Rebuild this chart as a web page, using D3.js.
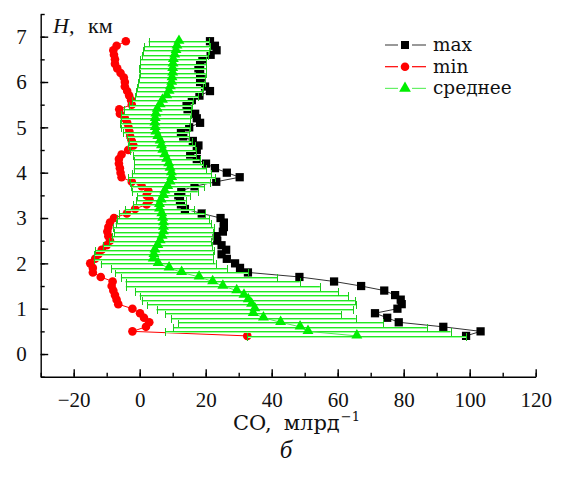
<!DOCTYPE html>
<html>
<head>
<meta charset="utf-8">
<script src="https://cdn.jsdelivr.net/npm/d3@7"></script>
<style>
  body { margin: 0; background: #fff; }
</style>
</head>
<body>
<div id="chart"></div>
<script>
var width = 561, height = 478
var serif = "Liberation Serif, Times New Roman, serif"
var wideSerif = "DejaVu Serif, Liberation Serif, serif"

// heights, km (bottom to top)
var heights = [0.4, 0.5, 0.6, 0.7, 0.8, 0.9, 1.0, 1.1, 1.2, 1.3, 1.4, 1.5, 1.6, 1.7, 1.8, 1.9,
  2.0, 2.1, 2.2, 2.3, 2.4, 2.5, 2.6, 2.7, 2.8, 2.9, 3.0, 3.1, 3.2, 3.3, 3.4, 3.5, 3.6, 3.7, 3.8, 3.9,
  4.0, 4.1, 4.2, 4.3, 4.4, 4.5, 4.6, 4.7, 4.8, 4.9, 5.0, 5.1, 5.2, 5.3, 5.4, 5.5, 5.6, 5.7, 5.8, 5.9,
  6.0, 6.1, 6.2, 6.3, 6.4, 6.5, 6.6, 6.7, 6.8, 6.9]

var maxVals = [98.9, 103.3, 92.0, 78.5, 75.0, 71.3, 78.1, 79.4, 79.1, 77.4, 74.1, 67.1, 58.9, 48.4, 32.8, 30.4,
  28.9, 26.4, 24.8, 26.2, 24.8, 23.5, 23.3, 25.2, 25.5, 25.5, 24.5, 18.8, 13.7, 12.5, 12.2, 11.7, 12.6, 16.6, 23.2, 30.3,
  26.4, 22.8, 20.1, 17.3, 15.3, 17.3, 17.8, 16.1, 13.2, 12.5, 15.0, 18.3, 17.3, 16.8, 14.5, 14.2, 15.8, 18.1, 21.3, 19.8,
  18.3, 18.5, 18.3, 17.8, 18.3, 19.0, 21.5, 23.3, 22.8, 21.3]

var minVals = [32.6, -2.2, 1.9, 2.9, 1.3, 0.1, -2.2, -6.5, -7.0, -7.5, -8.0, -8.5, -8.2, -11.8, -14.2, -14.2,
  -15.0, -13.5, -12.5, -11.5, -10.0, -9.0, -9.5, -9.8, -9.5, -9.0, -7.8, -3.9, -1.4, 2.1, 3.0, 2.1, 2.6, 0.6, -2.4, -5.5,
  -5.8, -6.0, -6.3, -6.3, -5.5, -3.5, -1.9, -2.4, -2.9, -3.1, -3.4, -3.8, -4.5, -6.0, -6.2, -2.4, -2.6, -3.2, -3.8, -4.5,
  -4.5, -4.8, -5.8, -6.8, -7.5, -7.5, -7.8, -8.0, -7.0, -4.2]

var meanVals = [65.8, 51.0, 48.6, 42.7, 37.5, 34.4, 34.9, 33.9, 32.9, 31.6, 29.4, 25.2, 22.1, 18.0, 12.7, 8.9,
  5.6, 4.1, 4.3, 4.6, 5.5, 6.2, 6.8, 7.2, 7.2, 7.2, 7.0, 6.7, 6.0, 6.0, 6.5, 7.2, 7.6, 8.5, 9.2, 9.7,
  9.6, 9.2, 8.8, 8.2, 7.6, 7.0, 6.6, 6.2, 5.5, 4.9, 4.7, 4.6, 4.7, 4.9, 5.3, 6.2, 6.9, 8.2, 8.9, 9.3,
  9.7, 9.8, 10.0, 10.0, 10.1, 10.2, 10.6, 11.0, 11.3, 11.9]

var sdVals = [33.2, 43.2, 38.4, 31.1, 28.0, 26.6, 29.8, 31.6, 32.3, 31.6, 30.8, 29.4, 26.4, 23.7, 20.1, 17.5,
  17.4, 18.0, 18.0, 18.0, 16.5, 15.5, 15.3, 15.0, 15.2, 14.5, 14.0, 13.0, 10.5, 8.0, 7.5, 8.0, 10.0, 11.0, 12.0, 13.2,
  12.0, 11.0, 10.5, 10.0, 9.5, 10.0, 10.2, 9.5, 9.5, 10.0, 10.5, 10.5, 10.5, 10.5, 10.2, 9.5, 9.2, 9.5, 10.0, 10.0,
  10.2, 10.0, 10.0, 10.2, 10.0, 10.0, 10.0, 10.0, 10.0, 9.2]

var xTicks = [-20, 0, 20, 40, 60, 80, 100, 120]
var yTicks = [0, 1, 2, 3, 4, 5, 6, 7]
var seriesNames = ["max", "min", "среднее"]

var rows = heights.map(function(h, i) {
  return { h: h, max: maxVals[i], min: minVals[i], mean: meanVals[i], sd: sdVals[i] }
})

var svg = d3.select("#chart")
  .append("svg")
  .attr("width", width)
  .attr("height", height)

var xScale = d3.scaleLinear()
  .domain([-30, 120])
  .range([40.7, 535.7])

var yScale = d3.scaleLinear()
  .domain([-0.5, 7.5])
  .range([376.7, 14])

// minor ticks
svg.append("g")
  .attr("transform", "translate(0," + yScale(-0.5) + ")")
  .call(d3.axisBottom(xScale).tickValues(d3.range(-30, 121, 10)).tickSize(-4).tickSizeOuter(0).tickFormat(""))
  .call(function(g) { g.select(".domain").remove() })
svg.append("g")
  .attr("transform", "translate(" + xScale(-30) + ",0)")
  .call(d3.axisLeft(yScale).tickValues(d3.range(-0.5, 7.51, 0.5)).tickSize(-4).tickSizeOuter(0).tickFormat(""))
  .call(function(g) { g.select(".domain").remove() })

// X axis
svg.append("g")
  .attr("class", "x-axis")
  .attr("transform", "translate(0," + yScale(-0.5) + ")")
  .call(d3.axisBottom(xScale).tickValues(xTicks).tickSize(-7.5).tickSizeOuter(0).tickPadding(15))
  .attr("font-family", serif)
  .attr("font-size", 21)

// Y axis
svg.append("g")
  .attr("class", "y-axis")
  .attr("transform", "translate(" + xScale(-30) + ",0)")
  .call(d3.axisLeft(yScale).tickValues(yTicks).tickSize(-7.5).tickSizeOuter(0).tickPadding(14))
  .attr("font-family", serif)
  .attr("font-size", 21)

svg.selectAll(".tick line, .domain").attr("stroke", "#000").attr("stroke-width", 1.4)
svg.selectAll(".tick text").attr("fill", "#111")

var lineOf = function(key) {
  return d3.line()
    .x(function(d) { return xScale(d[key]) })
    .y(function(d) { return yScale(d.h) })
}

// max
svg.append("path")
  .datum(rows)
  .attr("d", lineOf("max"))
  .attr("fill", "none")
  .attr("stroke", "#333")
  .attr("stroke-width", 1)
svg.selectAll(".sq")
  .data(rows)
  .enter()
  .append("path")
  .attr("class", "sq")
  .attr("d", d3.symbol(d3.symbolSquare, 68))
  .attr("transform", function(d) { return "translate(" + xScale(d.max) + "," + yScale(d.h) + ")" })
  .attr("fill", "#000")

// min
svg.append("path")
  .datum(rows)
  .attr("d", lineOf("min"))
  .attr("fill", "none")
  .attr("stroke", "#f00")
  .attr("stroke-width", 1)
svg.selectAll(".dot")
  .data(rows)
  .enter()
  .append("circle")
  .attr("class", "dot")
  .attr("cx", function(d) { return xScale(d.min) })
  .attr("cy", function(d) { return yScale(d.h) })
  .attr("r", 4.3)
  .attr("fill", "#f00")

// error bars of the mean
var bars = svg.append("g").attr("class", "err")
rows.forEach(function(d) {
  var y0 = Math.round(yScale(d.h))
  var x0 = xScale(d.mean - d.sd), x1 = xScale(d.mean + d.sd)
  bars.append("line").attr("x1", x0).attr("x2", x1).attr("y1", y0 + 0.5).attr("y2", y0 + 0.5)
    .attr("stroke", "#22e622").attr("stroke-width", 1)
  bars.append("line").attr("x1", x0).attr("x2", x1).attr("y1", y0 + 1.5).attr("y2", y0 + 1.5)
    .attr("stroke", "#9cff9c").attr("stroke-width", 1)
  ;[x0, x1].forEach(function(xc) {
    bars.append("line").attr("x1", Math.round(xc) + 0.5).attr("x2", Math.round(xc) + 0.5)
      .attr("y1", y0 - 3).attr("y2", y0 + 5)
      .attr("stroke", "#1ec81e").attr("stroke-width", 1)
  })
})

// mean
svg.append("path")
  .datum(rows)
  .attr("d", lineOf("mean"))
  .attr("fill", "none")
  .attr("stroke", "#4ee84e")
  .attr("stroke-width", 1)
svg.selectAll(".tri")
  .data(rows)
  .enter()
  .append("path")
  .attr("class", "tri")
  .attr("d", d3.symbol(d3.symbolTriangle, 52))
  .attr("transform", function(d) { return "translate(" + xScale(d.mean) + "," + (yScale(d.h) - 0.5) + ")" })
  .attr("fill", "#00ee00")

// legend
var legendStyles = [
  { line: "#555", fill: "#000", sym: d3.symbolSquare, size: 64 },
  { line: "#f00", fill: "#f00", sym: d3.symbolCircle, size: 58 },
  { line: "#66f066", fill: "#00ee00", sym: d3.symbolTriangle, size: 60 }
]
var legend = svg.append("g").attr("class", "legend")
seriesNames.forEach(function(name, i) {
  var ly = 45 + i * 21.7
  var st = legendStyles[i]
  legend.append("line").attr("x1", 385).attr("x2", 398).attr("y1", ly).attr("y2", ly)
    .attr("stroke", st.line).attr("stroke-width", 1.2)
  legend.append("line").attr("x1", 412).attr("x2", 426).attr("y1", ly).attr("y2", ly)
    .attr("stroke", st.line).attr("stroke-width", 1.2)
  legend.append("path").attr("d", d3.symbol(st.sym, st.size))
    .attr("transform", "translate(405," + ly + ")")
    .attr("fill", st.fill)
  legend.append("text").attr("x", 433).attr("y", ly + 6)
    .attr("font-family", wideSerif)
    .attr("font-size", 18.5)
    .attr("fill", "#111")
    .text(name)
})

// axis titles
var yTitle = svg.append("text").attr("y", 33).attr("font-family", serif).attr("font-size", 22).attr("fill", "#111")
yTitle.append("tspan").attr("x", 53).attr("font-style", "italic").text("H,")
yTitle.append("tspan").attr("x", 88).text("км")

var xTitle = svg.append("text").attr("x", 233).attr("y", 430).attr("font-family", wideSerif)
  .attr("font-size", 21).attr("fill", "#111")
xTitle.append("tspan").text("CO,")
xTitle.append("tspan").attr("dx", 12).text("млрд")
xTitle.append("tspan").attr("dx", 1).attr("font-size", 13).attr("dy", -9).text("−1")

svg.append("text").attr("x", 286).attr("y", 458).attr("text-anchor", "middle")
  .attr("font-family", serif)
  .attr("font-size", 25).attr("font-style", "italic").attr("fill", "#111")
  .text("б")
</script>
</body>
</html>
